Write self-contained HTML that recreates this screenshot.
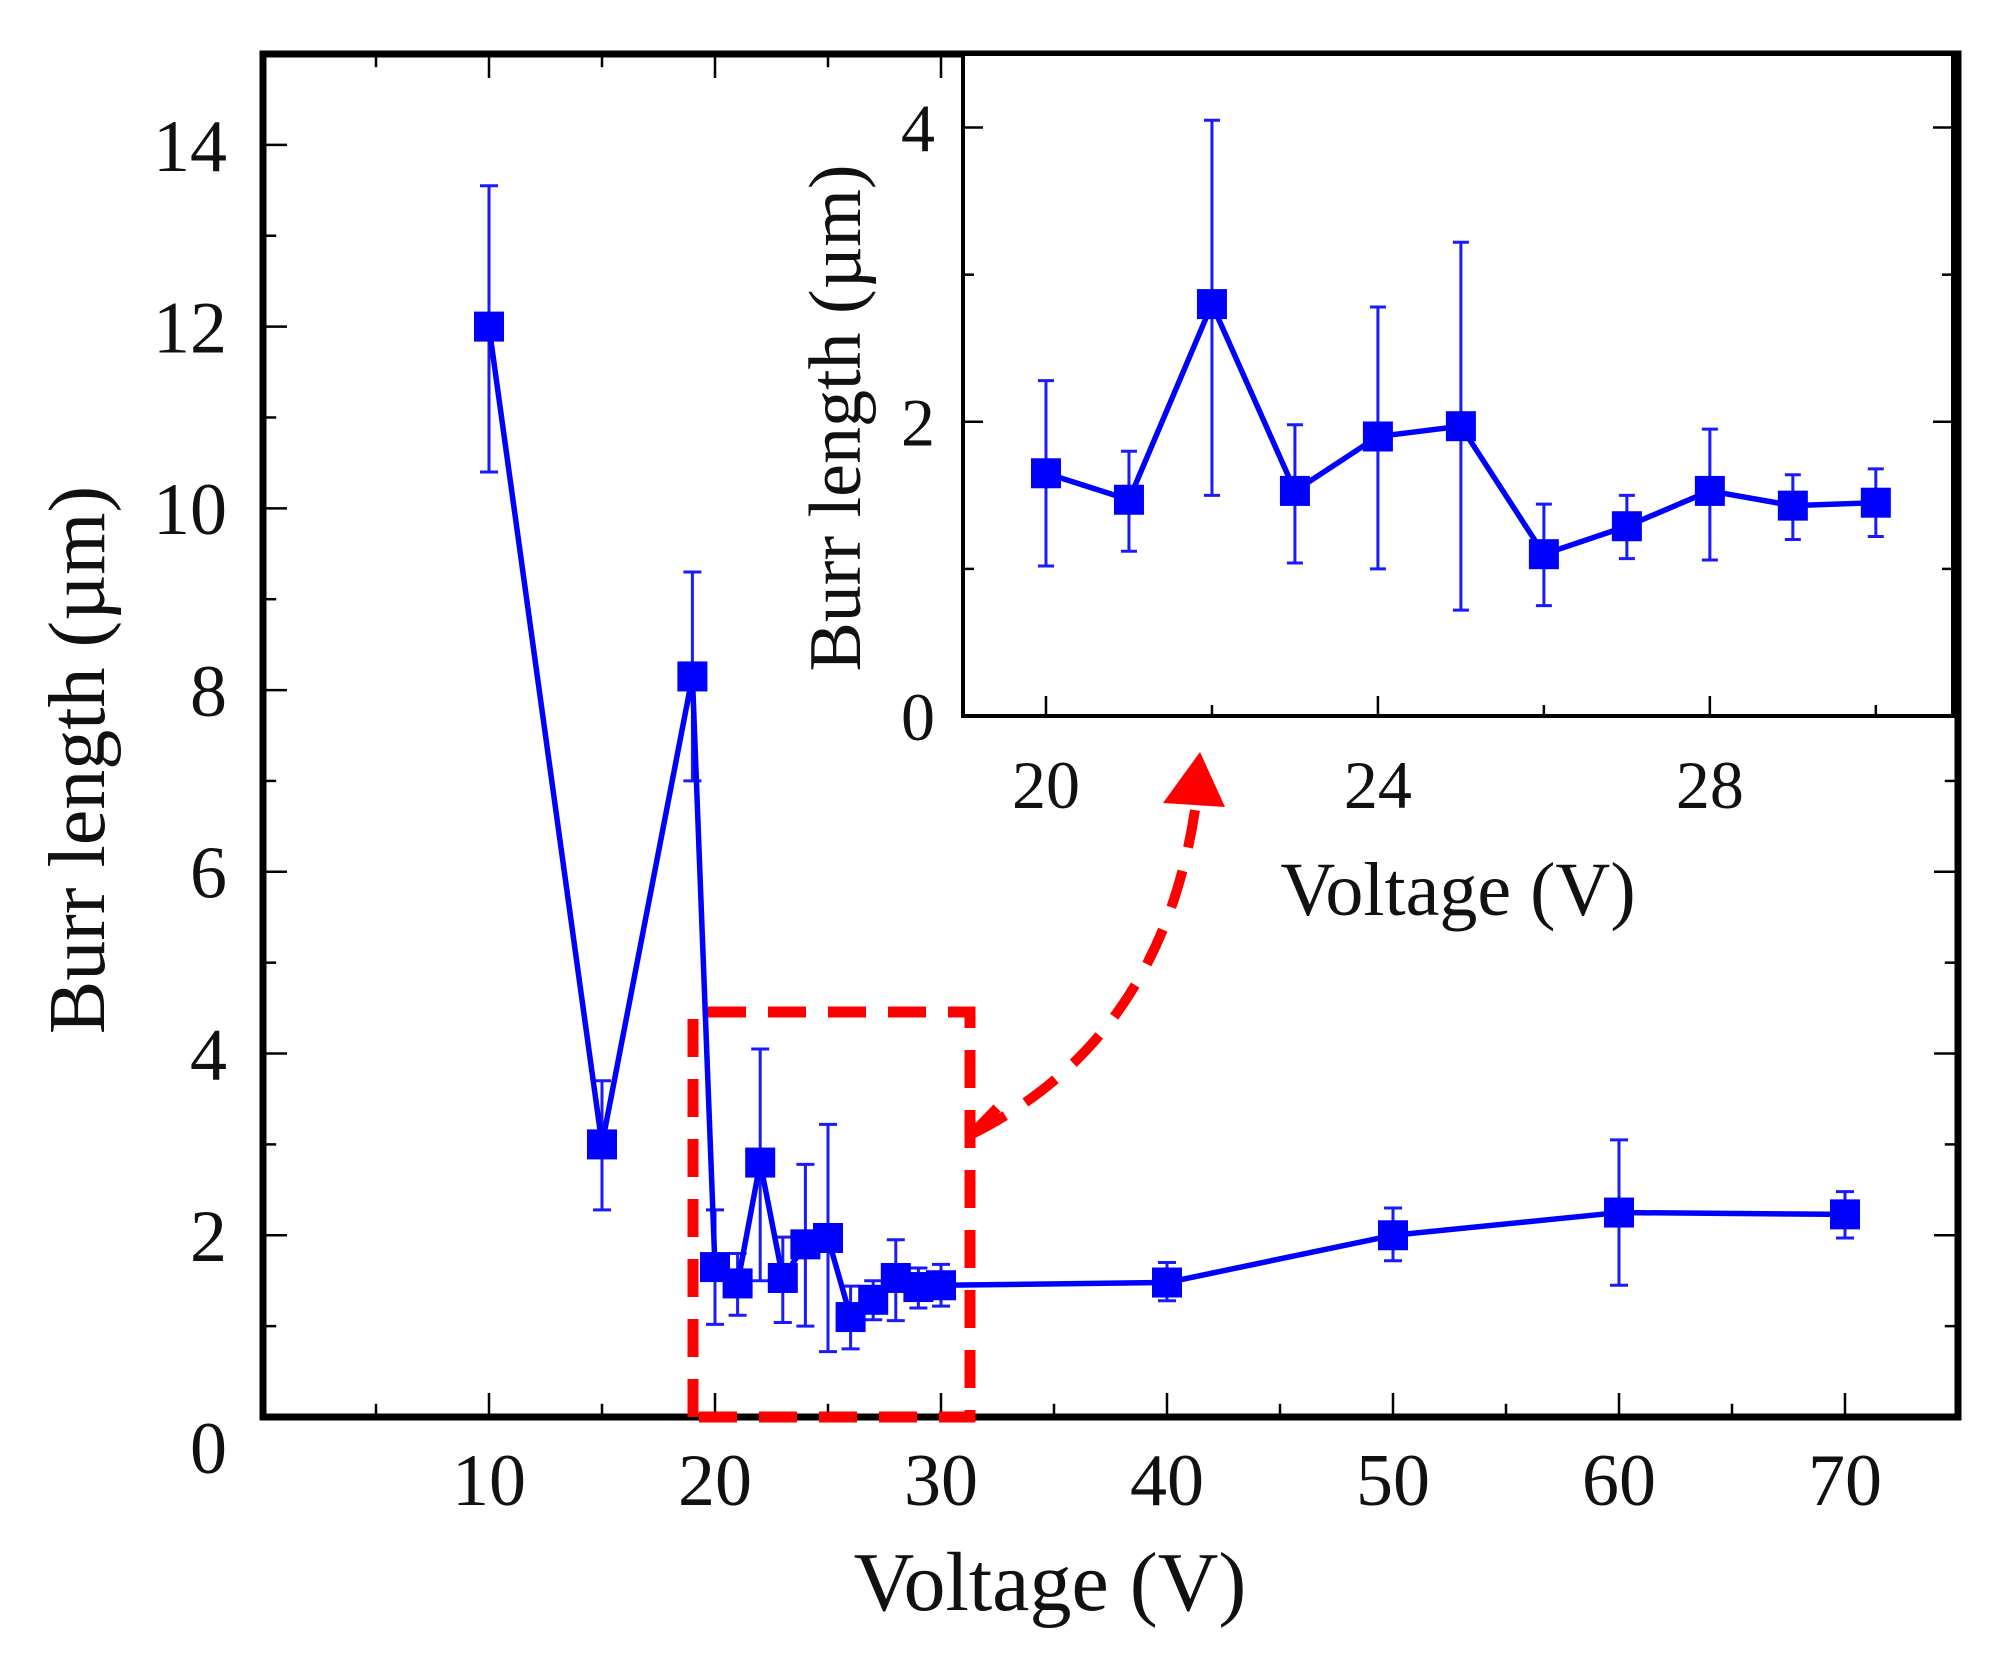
<!DOCTYPE html>
<html><head><meta charset="utf-8"><style>
html,body{margin:0;padding:0;background:#fff;}
svg{display:block;font-family:"Liberation Serif",serif;}
</style></head><body>
<svg id="chart" width="2011" height="1657" viewBox="0 0 2011 1657" xmlns="http://www.w3.org/2000/svg">
<g id="main"></g>
<g id="box"></g>
<g id="inset"></g>
</svg>
<script>
const voltages = [10,15,19,20,21,22,23,24,25,26,27,28,29,30,40,50,60,70];
const burr = [12,3,8.15,1.65,1.47,2.8,1.53,1.9,1.97,1.1,1.29,1.53,1.43,1.45,1.48,2.0,2.25,2.23];
const errLow = [10.4,2.28,7.0,1.02,1.12,1.5,1.04,1.0,0.72,0.75,1.07,1.06,1.2,1.22,1.28,1.72,1.45,1.97];
const errHigh = [13.55,3.7,9.3,2.28,1.8,4.05,1.98,2.78,3.22,1.44,1.5,1.95,1.64,1.68,1.7,2.3,3.05,2.48];
const mainYTicks = [0,2,4,6,8,10,12,14];
const mainXTicks = [10,20,30,40,50,60,70];
const insetXTicks = [20,24,28];
const insetYTicks = [0,2,4];

const NS="http://www.w3.org/2000/svg";
function mk(parent,tag,attrs,text){const e=document.createElementNS(NS,tag);for(const k in attrs)e.setAttribute(k,attrs[k]);if(text!==undefined)e.textContent=text;parent.appendChild(e);return e;}

function drawPlot(g,cfg){
  const X=v=>cfg.L+(v-cfg.x0)/(cfg.x1-cfg.x0)*(cfg.R-cfg.L);
  const Y=v=>cfg.B-(v-cfg.y0)/(cfg.y1-cfg.y0)*(cfg.B-cfg.T);
  for(let v=cfg.y0;v<=cfg.y1+1e-9;v+=cfg.yMinor){
    const major=Math.abs(v/cfg.yMajor-Math.round(v/cfg.yMajor))<1e-6;
    const len=major?cfg.tk:cfg.tk*0.55;
    const t1=mk(g,'line',{x1:cfg.L,x2:cfg.L+len,y1:Y(v),y2:Y(v),stroke:'#000','stroke-width':cfg.tw});
    
    
    const t2=mk(g,'line',{x1:cfg.R,x2:cfg.R-len,y1:Y(v),y2:Y(v),stroke:'#000','stroke-width':cfg.tw});
    
    
  }
  for(let v=cfg.xMinStart;v<=cfg.x1;v+=cfg.xMinor){
    const major=cfg.xt.indexOf(v)>=0;
    const len=major?cfg.tk:cfg.tk*0.55;
    const t=mk(g,'line',{x1:X(v),x2:X(v),y1:cfg.B,y2:cfg.B-len,stroke:'#000','stroke-width':cfg.tw});
    
    
    if(cfg.topTicks){
      const tt=mk(g,'line',{x1:X(v),x2:X(v),y1:cfg.T,y2:cfg.T+len,stroke:'#000','stroke-width':cfg.tw});
      
      
    }
  }
  cfg.yt.forEach(v=>{
    const dy=(v===0&&cfg.zeroDrop)?cfg.zeroDrop:0;
    const t=mk(g,'text',{x:cfg.L-cfg.ylGap,y:Y(v)+cfg.fs*0.35+dy,'text-anchor':'end','font-size':cfg.fs,fill:'#111'},String(v));
    
    
  });
  cfg.xt.forEach(v=>{
    const t=mk(g,'text',{x:X(v),y:cfg.B+cfg.xlGap,'text-anchor':'middle','font-size':cfg.fs,fill:'#111'},String(v));
    
    
  });
  const idx=voltages.map((v,i)=>i).filter(i=>voltages[i]>=cfg.dMin&&voltages[i]<=cfg.dMax);
  idx.forEach(i=>{
    const x=X(voltages[i]);
    const e=mk(g,'path',{d:`M${x},${Y(errLow[i])}V${Y(errHigh[i])}M${x-cfg.cap},${Y(errLow[i])}h${2*cfg.cap}M${x-cfg.cap},${Y(errHigh[i])}h${2*cfg.cap}`,stroke:'#1a1aff','stroke-width':3,fill:'none'});
    
    
  });
  const pl=mk(g,'polyline',{points:idx.map(i=>X(voltages[i])+','+Y(burr[i])).join(' '),fill:'none',stroke:'#0000ff','stroke-width':cfg.lw,'stroke-linejoin':'round'});
  
  
  idx.forEach(i=>{
    const s=cfg.ms;
    const m=mk(g,'rect',{x:X(voltages[i])-s/2,y:Y(burr[i])-s/2,width:s,height:s,fill:'#0000ff'});
    
    
  });
  const f=mk(g,'rect',{x:cfg.L,y:cfg.T,width:cfg.R-cfg.L,height:cfg.B-cfg.T,fill:'none',stroke:'#000','stroke-width':cfg.fw});
  
  
  return {X,Y};
}

const main=document.getElementById('main');
drawPlot(main,{L:263,R:1958,T:54,B:1417,x0:0,x1:75,y0:0,y1:15,yMajor:2,yMinor:1,xMinor:5,xMinStart:5,
  xt:mainXTicks,yt:mainYTicks,tk:24,tw:2.5,fw:7,fs:74,ylGap:36,xlGap:88,zeroDrop:30,cap:9,lw:5.5,ms:30,dMin:0,dMax:100,topTicks:true});
const xt=mk(main,'text',{x:1050,y:1610,'text-anchor':'middle','font-size':84,fill:'#111'},'Voltage (V)');

const yt=mk(main,'text',{x:0,y:0,'text-anchor':'middle','font-size':80,fill:'#111',transform:'translate(104,760) rotate(-90)'},'Burr length (\u00b5m)');


const box=document.getElementById('box');
const rb=mk(box,'path',{d:'M693,1417V1012H970V1417H693',fill:'none',stroke:'#ff0000','stroke-width':11,'stroke-dasharray':'38,22'});

const ar=mk(box,'path',{d:'M972,1134 Q1160,1040 1195,810',fill:'none',stroke:'#ff0000','stroke-width':10,'stroke-dasharray':'38,24'});

const ar2=mk(box,'path',{d:'M972,1134 L997,1108',fill:'none',stroke:'#ff0000','stroke-width':10});

const ah=mk(box,'polygon',{points:'1200,752 1163,803 1225,807',fill:'#ff0000'});


const inset=document.getElementById('inset');
const ib=mk(inset,'rect',{x:963,y:54,width:990,height:662,fill:'#fff'});

drawPlot(inset,{L:963,R:1953,T:54,B:716,x0:19,x1:30.93,y0:0,y1:4.5,yMajor:2,yMinor:1,xMinor:2,xMinStart:20,
  xt:insetXTicks,yt:insetYTicks,tk:20,tw:2.5,fw:4,fs:68,ylGap:28,xlGap:92,zeroDrop:0,cap:8,lw:5.5,ms:30,dMin:20,dMax:30,topTicks:false});
const ixt=mk(inset,'text',{x:1458,y:915,'text-anchor':'middle','font-size':76,fill:'#111'},'Voltage (V)');

const iyt=mk(inset,'text',{x:0,y:0,'text-anchor':'middle','font-size':74,fill:'#111',transform:'translate(860,418) rotate(-90)'},'Burr length (\u00b5m)');

</script>
</body></html>
